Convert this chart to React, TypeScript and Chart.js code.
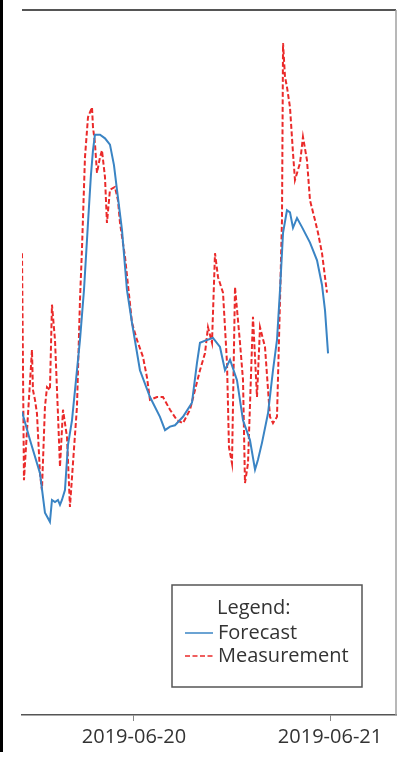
import React, { useEffect, useRef } from "react";
import { Chart, registerables } from "chart.js";

Chart.register(...registerables);

// Hours counted from 2019-06-19 00:00
const tickHours = [24, 48];
const tickLabels = ["2019-06-20", "2019-06-21"];
const axisStartHour = 10.29;
const axisEndHour = 56.08;

const seriesNames = ["Forecast", "Measurement"];
const legendTitle = "Legend:";

const forecastHours = [
  10.29, 11.27, 12.49, 12.86, 13.1, 13.71, 13.96, 14.33, 14.69, 14.94,
  15.18, 15.55, 15.92, 16.41, 16.9, 17.39, 17.88, 18.37, 18.73, 18.98,
  19.22, 19.84, 20.45, 21.06, 21.55, 21.92, 22.53, 23.14, 23.76, 24.73,
  25.96, 27.18, 27.8, 28.41, 29.02, 30.0, 31.1, 31.71, 32.08, 32.94,
  33.67, 34.53, 35.14, 35.76, 36.61, 37.35, 38.2, 38.82, 39.18, 39.67,
  40.41, 41.02, 41.51, 41.88, 42.25, 42.73, 43.1, 43.47, 43.96, 44.57,
  45.55, 46.41, 47.02, 47.39, 47.76,
];
const forecastValues = [
  43.0, 39.0, 34.3, 30.9, 28.7, 27.4, 30.5, 30.2, 30.5, 29.8,
  30.5, 31.9, 38.3, 41.8, 47.5, 53.2, 60.3, 69.8, 76.6, 80.1,
  82.3, 82.3, 81.8, 80.9, 78.0, 74.5, 68.8, 60.3, 55.6, 48.9,
  45.1, 42.3, 40.4, 40.9, 41.1, 42.3, 44.3, 49.9, 52.8, 53.2,
  53.5, 52.2, 48.9, 50.4, 47.5, 41.8, 39.0, 34.8, 36.2, 38.6,
  42.8, 48.9, 53.2, 60.3, 68.4, 71.6, 71.3, 69.1, 70.5, 69.2,
  67.0, 64.5, 61.0, 57.4, 51.3,
];

const measurementHours = [
  10.29, 10.53, 11.51, 11.63, 11.88, 12.12, 12.49, 12.73, 13.1, 13.35,
  13.71, 13.96, 14.33, 14.69, 14.94, 15.31, 15.8, 16.16, 16.53, 17.02,
  17.39, 17.63, 18.0, 18.37, 18.86, 18.98, 19.22, 19.47, 19.84, 20.08,
  20.45, 20.69, 21.06, 21.67, 22.04, 22.29, 22.9, 23.76, 24.37, 25.1,
  25.59, 25.96, 26.82, 27.55, 28.41, 29.27, 30.0, 30.86, 31.47, 32.08,
  32.69, 33.06, 33.55, 33.92, 34.29, 34.9, 35.39, 35.63, 36.0, 36.37,
  36.98, 37.35, 37.59, 37.96, 38.57, 39.06, 39.43, 40.04, 40.65, 41.02,
  41.51, 41.88, 42.12, 42.25, 42.49, 42.73, 43.1, 43.47, 43.71, 44.33,
  44.69, 45.18, 45.55, 46.16, 46.53, 47.02, 47.63,
];
const measurementValues = [
  65.5, 33.3, 51.8, 46.1, 44.7, 42.8, 34.3, 31.9, 43.7, 46.5,
  46.1, 58.2, 53.2, 42.8, 35.2, 43.3, 39.4, 29.5, 35.7, 43.7,
  58.9, 66.0, 79.1, 84.8, 86.2, 83.4, 81.1, 76.9, 79.1, 80.1,
  76.3, 69.8, 74.5, 74.9, 73.0, 69.8, 65.0, 55.6, 53.2, 50.8,
  47.9, 44.7, 45.1, 45.1, 43.3, 41.8, 41.4, 43.3, 46.1, 48.9,
  51.3, 55.0, 52.8, 65.5, 62.1, 59.9, 49.9, 38.0, 35.7, 60.7,
  52.8, 47.5, 32.9, 35.7, 56.5, 45.1, 55.0, 52.2, 42.3, 41.4,
  42.3, 58.9, 70.2, 95.3, 90.5, 89.1, 86.2, 79.7, 75.9, 78.3,
  82.0, 78.7, 73.0, 70.2, 68.4, 65.5, 59.9,
];

const FONT = '"Open Sans", "DejaVu Sans", sans-serif';

const framePlugin = {
  id: "frameAndLegend",
  afterDraw(chart: any) {
    const { ctx, chartArea: a } = chart;
    ctx.save();
    // top spine
    ctx.strokeStyle = "#555";
    ctx.lineWidth = 2;
    ctx.beginPath();
    ctx.moveTo(a.left, a.top);
    ctx.lineTo(a.right, a.top);
    ctx.stroke();
    // right spine
    ctx.strokeStyle = "#a0a0a0";
    ctx.lineWidth = 1.5;
    ctx.beginPath();
    ctx.moveTo(a.right, a.top);
    ctx.lineTo(a.right, a.bottom);
    ctx.stroke();

    // legend box
    const bw = 190;
    const bh = 102;
    const bx = a.right - 224;
    const by = a.bottom - 130;
    ctx.fillStyle = "#ffffff";
    ctx.fillRect(bx, by, bw, bh);
    ctx.strokeStyle = "#555";
    ctx.lineWidth = 1.5;
    ctx.strokeRect(bx, by, bw, bh);

    ctx.font = `20px ${FONT}`;
    ctx.fillStyle = "#333";
    ctx.textBaseline = "middle";
    ctx.textAlign = "left";
    ctx.fillText(legendTitle, bx + 45, by + 23);

    chart.data.datasets.forEach((ds: any, i: number) => {
      const y = by + 48 + i * 23;
      ctx.save();
      ctx.strokeStyle = ds.borderColor;
      ctx.lineWidth = 1.5;
      ctx.setLineDash(ds.borderDash || []);
      ctx.beginPath();
      ctx.moveTo(bx + 13, y);
      ctx.lineTo(bx + 41, y);
      ctx.stroke();
      ctx.restore();
      ctx.fillStyle = "#333";
      ctx.fillText(ds.label, bx + 46, y);
    });
    ctx.restore();
  },
};

export default function App() {
  const ref = useRef<HTMLCanvasElement | null>(null);

  useEffect(() => {
    if (!ref.current) return;
    const chart = new Chart(ref.current, {
      type: "line",
      data: {
        datasets: [
          {
            label: seriesNames[0],
            data: forecastHours.map((h, i) => ({ x: h, y: forecastValues[i] })),
            borderColor: "#3a84c4",
            borderWidth: 2,
            pointRadius: 0,
            tension: 0,
            fill: false,
          },
          {
            label: seriesNames[1],
            data: measurementHours.map((h, i) => ({ x: h, y: measurementValues[i] })),
            borderColor: "#ea2a2a",
            borderWidth: 2,
            borderDash: [5, 2.5],
            pointRadius: 0,
            tension: 0,
            fill: false,
          },
        ],
      },
      options: {
        animation: false,
        responsive: false,
        devicePixelRatio: 1,
        layout: { padding: { left: 22, right: 22, top: 10, bottom: 0 } },
        plugins: {
          legend: { display: false },
          tooltip: { enabled: false },
        },
        scales: {
          x: {
            type: "linear",
            min: axisStartHour,
            max: axisEndHour,
            afterBuildTicks: (s: any) => {
              s.ticks = tickHours.map((v) => ({ value: v }));
            },
            afterFit: (s: any) => {
              s.height = 50;
            },
            border: { display: true, color: "#555", width: 1.5 },
            grid: {
              display: true,
              drawOnChartArea: false,
              drawTicks: true,
              tickLength: 6,
              color: "#888",
            },
            ticks: {
              autoSkip: false,
              maxRotation: 0,
              padding: 4,
              color: "#333",
              font: { family: FONT, size: 20 },
              callback: (value: any) => {
                const idx = tickHours.indexOf(Number(value));
                return idx >= 0 ? tickLabels[idx] : "";
              },
            },
          },
          y: {
            display: false,
            min: 0,
            max: 100,
          },
        },
      },
      plugins: [framePlugin],
    });
    return () => chart.destroy();
  }, []);

  return (
    <div style={{ position: "absolute", left: 0, top: 0, width: 418, height: 765, background: "#fff" }}>
      <canvas ref={ref} width={418} height={765} style={{ display: "block" }} />
      <div style={{ position: "absolute", left: 0, top: 0, width: 3, height: 752, background: "#000" }} />
    </div>
  );
}
